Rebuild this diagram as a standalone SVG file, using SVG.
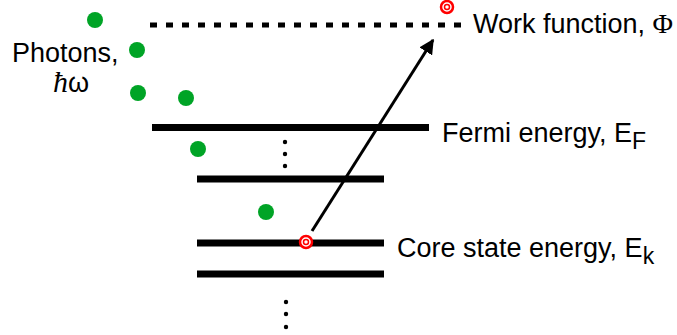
<svg xmlns="http://www.w3.org/2000/svg" width="677" height="335" viewBox="0 0 677 335">
<defs>
<style>
.lvl{stroke:#000;stroke-width:7;fill:none}
.lbl{font-family:"Liberation Sans",Arial,sans-serif;font-size:27px;fill:#000}
.ph{fill:#00a426}
.dot{fill:#000}
.tgt{fill:#fff;stroke:#ff0000}
</style>
<marker id="ah" viewBox="0 0 10 10" refX="9" refY="5" markerWidth="5" markerHeight="5" orient="auto" markerUnits="strokeWidth">
<path d="M0,0 L10,5 L0,10 z" fill="#000"/>
</marker>
</defs>
<rect width="677" height="335" fill="#fff"/>
<g id="work-function">
<line x1="150" y1="25" x2="461" y2="25" stroke="#000" stroke-width="5" stroke-dasharray="7 9"/>
<text class="lbl" x="473" y="33">Work function, <tspan font-family="Liberation Serif,serif" font-size="28">Φ</tspan></text>
</g>
<g id="fermi">
<line class="lvl" x1="152" y1="127.5" x2="429" y2="127.5"/>
<text class="lbl" x="442" y="142">Fermi energy, E<tspan font-size="23" dy="7">F</tspan></text>
</g>
<g id="level2">
<line class="lvl" x1="197" y1="179" x2="384" y2="179"/>
</g>
<g id="core">
<line class="lvl" x1="197" y1="243" x2="384" y2="243"/>
<text class="lbl" x="397" y="257">Core state energy, E<tspan font-size="23" dy="7">k</tspan></text>
</g>
<g id="level4">
<line class="lvl" x1="197" y1="274" x2="384" y2="274"/>
</g>
<g id="ellipsis-upper">
<circle class="dot" cx="285" cy="142" r="2.2"/>
<circle class="dot" cx="285" cy="154" r="2.2"/>
<circle class="dot" cx="285" cy="166" r="2.2"/>
</g>
<g id="ellipsis-lower">
<circle class="dot" cx="286" cy="302" r="2.2"/>
<circle class="dot" cx="286" cy="314" r="2.2"/>
<circle class="dot" cx="286" cy="327" r="2.2"/>
</g>
<g id="photons">
<text class="lbl" x="12" y="62">Photons,<tspan x="53" dy="30" font-family="Liberation Serif,serif" font-style="italic" font-size="30">ħ</tspan><tspan>ω</tspan></text>
<circle class="ph" cx="95" cy="20" r="8"/>
<circle class="ph" cx="137" cy="50" r="8"/>
<circle class="ph" cx="138" cy="93" r="8"/>
<circle class="ph" cx="186" cy="98" r="8"/>
<circle class="ph" cx="198" cy="149" r="8"/>
<circle class="ph" cx="266" cy="212" r="8"/>
</g>
<g id="connectors">
<line x1="312" y1="231" x2="433" y2="40" stroke="#000" stroke-width="3" marker-end="url(#ah)"/>
</g>
<g id="electron-core">
<circle class="tgt" cx="306" cy="242" r="6" stroke-width="2.5"/>
<circle class="tgt" cx="306" cy="242" r="2.5" stroke-width="1.5"/>
</g>
<g id="electron-free">
<circle class="tgt" cx="447" cy="7" r="6" stroke-width="2.5"/>
<circle class="tgt" cx="447" cy="7" r="2.5" stroke-width="1.5"/>
</g>
</svg>
